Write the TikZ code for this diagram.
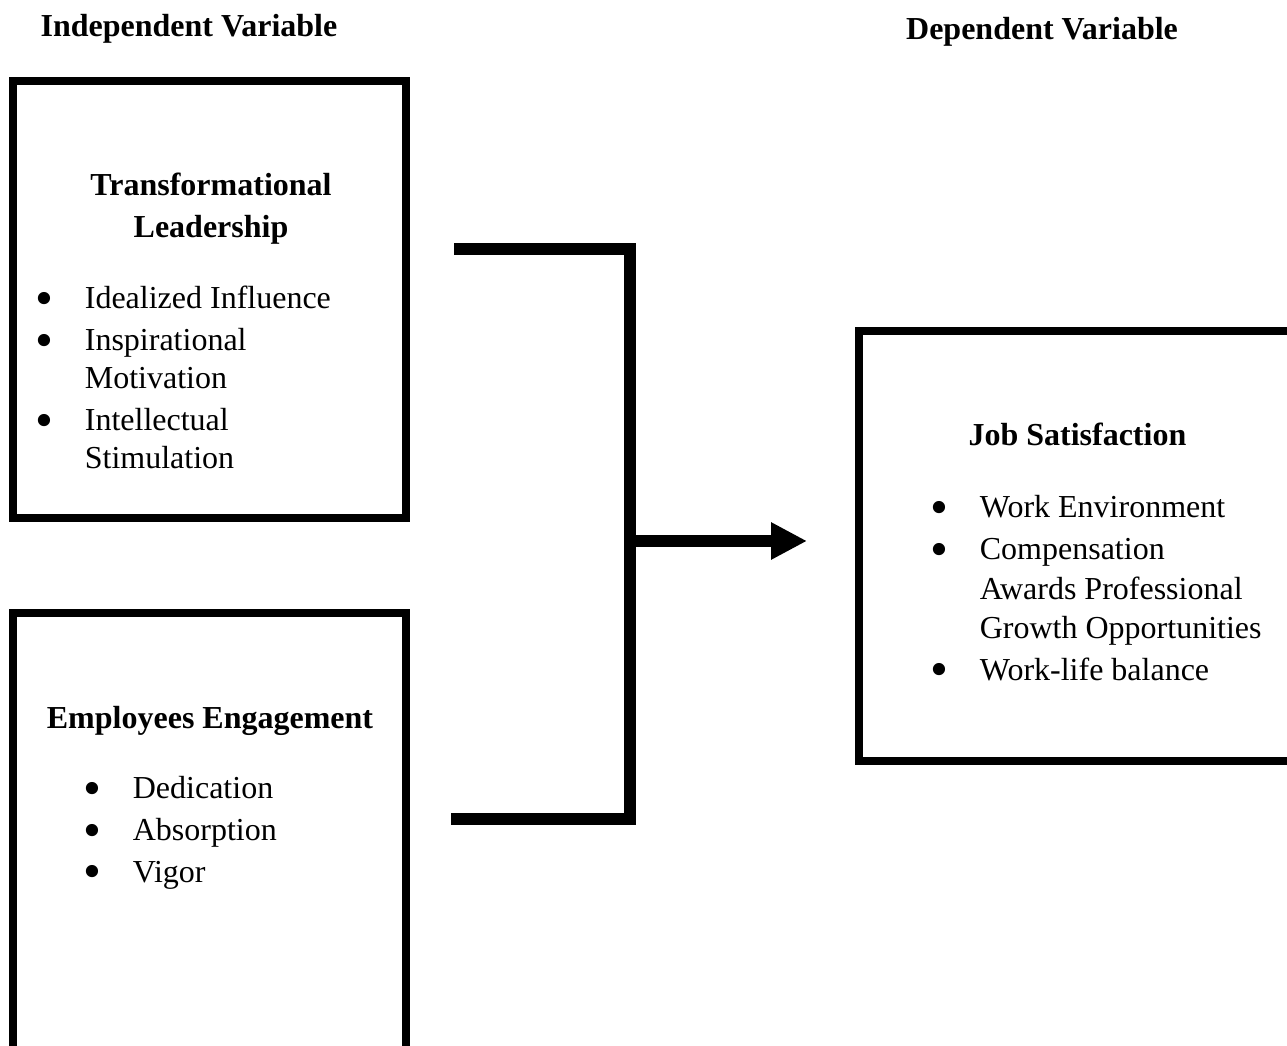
\documentclass[tikz,border=0pt]{standalone}
\usepackage{fontspec}
\setmainfont{Liberation Serif}
\usetikzlibrary{arrows.meta}
\newcommand{\bul}{\makebox[18.5pt][l]{\smash{\raisebox{-0.21em}{\scalebox{1.6}{\textbullet}}}}}
\begin{document}
\begin{tikzpicture}[x=0.375pt,y=-0.375pt,
  box/.style={draw,line width=3pt,rectangle,inner sep=0pt},
  headtext/.style={font=\bfseries\fontsize{12pt}{14.4pt}\selectfont,inner sep=0pt},
  listtext/.style={font=\fontsize{12pt}{14.4pt}\selectfont,inner sep=0pt,anchor=base west},
  link/.style={line width=4.5pt,line join=miter},
  arrowtip/.style={-{Triangle[length=13.5pt,width=13.1pt]}}
]
\useasboundingbox (0,0) rectangle (1287,1046);

% titles
\node[headtext,anchor=base] (indep) at (189,37) {Independent Variable};
\node[headtext,anchor=base] (dep) at (1042,40) {Dependent Variable};

% boxes
\node[box,minimum width=147.375pt,minimum height=163.875pt] (tl) at (209.5,299.5) {};
\node[box,minimum width=147.375pt,minimum height=182.625pt] (ee) at (209.5,856.5) {};
\node[box,minimum width=176.625pt,minimum height=161.25pt] (js) at (1094.5,546) {};

% box 1 text
\node[headtext,anchor=base] (tlh) at (211,196)
  {\begin{tabular}[t]{@{}c@{}}Transformational\\[1.1pt]Leadership\end{tabular}};
\node[listtext] (tll) at (35,309)
  {\begin{tabular}[t]{@{}l@{}l@{}}
   \bul & Idealized Influence\\[1.2pt]
   \bul & Inspirational\\
        & Motivation\\[1.2pt]
   \bul & Intellectual\\
        & Stimulation
   \end{tabular}};

% box 2 text
\node[headtext,anchor=base] (eeh) at (210,729) {Employees Engagement};
\node[listtext] (eel) at (83,799)
  {\begin{tabular}[t]{@{}l@{}l@{}}
   \bul & Dedication\\[1.2pt]
   \bul & Absorption\\[1.2pt]
   \bul & Vigor
   \end{tabular}};

% box 3 text
\node[headtext,anchor=base west] (jsh) at (968,446) {Job Satisfaction};
\node[listtext] (jsl) at (930,518)
  {\begin{tabular}[t]{@{}l@{}l@{}}
   \bul & Work Environment\\[1.2pt]
   \bul & Compensation\\[0.4pt]
        & Awards Professional\\[0.4pt]
        & Growth Opportunities\\[1.2pt]
   \bul & Work-life balance
   \end{tabular}};

% bracket and arrow
\coordinate (ta) at (454,249);
\coordinate (tc) at (630,249);
\coordinate (bc) at (630,819);
\coordinate (ba) at (451,819);
\coordinate (j) at (630,541);
\coordinate (at) at (807,541);
\draw[link] (ta) -- (tc) -- (bc) -- (ba);
\draw[link,arrowtip] (j) -- (at);
\end{tikzpicture}
\end{document}
